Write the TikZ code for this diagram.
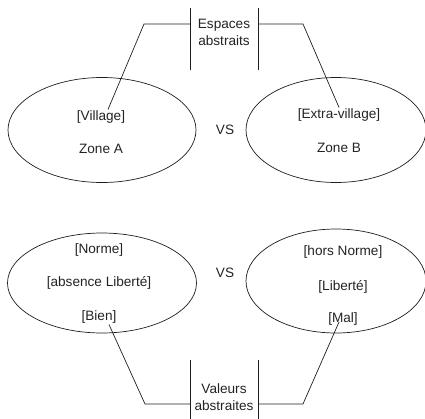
\documentclass[tikz,border=0pt]{standalone}
\usepackage{fontspec}
\setmainfont{Liberation Sans}
\usepackage{tikz}
\usetikzlibrary{shapes.geometric,positioning,calc}
\usepackage{xcolor}
\definecolor{dfline}{RGB}{30,30,30}
\definecolor{dftext}{RGB}{35,35,35}
\tikzstyle{zone} = [draw=dfline, line width=0.7pt, ellipse, inner sep=0pt]
\tikzstyle{word} = [text=dftext, inner sep=1pt, font=\fontsize{13.6}{17}\selectfont]
\tikzstyle{link} = [draw=dfline, line width=0.7pt]

\begin{document}
\begin{tikzpicture}[x=1pt, y=-1pt]
    \useasboundingbox (0,0) rectangle (425,418);

    % Zones
    \node[zone, minimum width=188pt, minimum height=105pt] (zoneA) at (102,130) {};
    \node[zone, minimum width=180pt, minimum height=105pt] (zoneB) at (336,130) {};
    \node[zone, minimum width=189pt, minimum height=100pt] (zoneC) at (102,283) {};
    \node[zone, minimum width=180pt, minimum height=104pt] (zoneD) at (336,281) {};

    % Texts
    \node[word] (village) at (101,117) {[Village]};
    \node[word] (zonea) at (101,149) {Zone A};
    \node[word] (extra) at (339,115) {[Extra-village]};
    \node[word] (zoneb) at (339,148) {Zone B};
    \node[word] (vs1) at (225,130) {VS};

    \node[word] (norme) at (99,250) {[Norme]};
    \node[word] (absence) at (99,283) {[absence Libert\'e]};
    \node[word] (bien) at (99,317) {[Bien]};
    \node[word] (hors) at (343,252) {[hors Norme]};
    \node[word] (liberte) at (343,287) {[Libert\'e]};
    \node[word] (mal) at (343,319) {[Mal]};
    \node[word] (vs2) at (225,273) {VS};

    % Abstract labels
    \node[word, align=center] (espaces) at (224,32.5) {Espaces\\abstraits};
    \node[word, align=center] (valeurs) at (224,397) {Valeurs\\abstraites};

    % Brackets
    \coordinate (eL) at (190,24);
    \coordinate (eR) at (258,24);
    \coordinate (vL) at (190,404);
    \coordinate (vR) at (258,404);
    \draw[link] (190,8) -- (190,70);
    \draw[link] (258,8) -- (258,70);
    \draw[link] (190,360) -- (190,420);
    \draw[link] (258,360) -- (258,420);

    % Connectors
    \draw[link] ([xshift=7pt]village.north) -- (144,24) -- (eL);
    \draw[link] (extra.north) -- (303,24) -- (eR);
    \draw[link] ([xshift=10pt]bien.south) -- (145,404) -- (vL);
    \draw[link] ([xshift=-4pt,yshift=-3pt]mal.center) -- (303,404) -- (vR);
\end{tikzpicture}
\end{document}
